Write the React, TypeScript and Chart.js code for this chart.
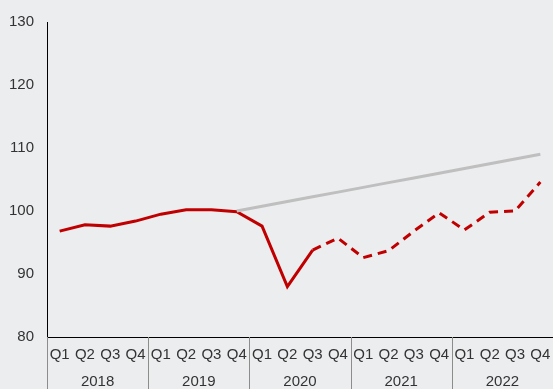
import React, { useEffect, useRef } from "react";
import { Chart, registerables } from "chart.js";

Chart.register(...registerables);

const quarters = ["Q1","Q2","Q3","Q4","Q1","Q2","Q3","Q4","Q1","Q2","Q3","Q4","Q1","Q2","Q3","Q4","Q1","Q2","Q3","Q4"];
const years = ["2018", "2019", "2020", "2021", "2022"];
const actual = [96.8, 97.8, 97.6, 98.4, 99.5, 100.2, 100.2, 99.9, 97.6, 88.0, 93.8, 95.7, 92.6, 93.7, 96.8, 99.7, 97.0, 99.8, 100.0, 104.6];
const trend = [null, null, null, null, null, null, null, 100.0, 100.75, 101.5, 102.25, 103.0, 103.75, 104.5, 105.25, 106.0, 106.75, 107.5, 108.25, 109.0];
const yTicks = [80, 90, 100, 110, 120, 130];
const forecastStart = 10;

const FONT = "'Liberation Sans', Arial, sans-serif";

export default function App() {
  const ref = useRef<HTMLCanvasElement>(null);
  useEffect(() => {
    document.body.style.margin = "0";
    const yearPlugin = {
      id: "yearPlugin",
      afterDraw(chart: any) {
        const { ctx, chartArea, scales } = chart;
        const x = scales.x;
        const n = quarters.length;
        const step = (x.getPixelForValue(1) - x.getPixelForValue(0));
        ctx.save();
        ctx.strokeStyle = "#8c8c8c";
        ctx.lineWidth = 1;
        for (let g = 0; g <= years.length; g++) {
          const idx = g * 4;
          const px = Math.round(x.getPixelForValue(Math.min(idx, n - 1)) + (idx >= n ? step / 2 : -step / 2)) + 0.5;
          ctx.beginPath();
          ctx.moveTo(px, chartArea.bottom);
          ctx.lineTo(px, chart.height);
          ctx.stroke();
        }
        ctx.fillStyle = "#333333";
        ctx.font = `15px ${FONT}`;
        ctx.textAlign = "center";
        ctx.textBaseline = "middle";
        years.forEach((yr, g) => {
          const c = (x.getPixelForValue(g * 4) + x.getPixelForValue(g * 4 + 3)) / 2;
          ctx.fillText(yr, c, chartArea.bottom + 45);
        });
        ctx.restore();
      },
    };
    const chart = new Chart(ref.current!, {
      type: "line",
      data: {
        labels: quarters,
        datasets: [
          {
            data: trend,
            borderColor: "#BFBFBF",
            borderWidth: 3,
            pointRadius: 0,
            tension: 0,
          },
          {
            data: actual,
            borderColor: "#C00000",
            borderWidth: 3,
            pointRadius: 0,
            tension: 0,
            segment: {
              borderDash: (c: any) => (c.p0DataIndex >= forecastStart ? [9, 6] : undefined),
            },
          },
        ],
      },
      options: {
        animation: false,
        responsive: false,
        layout: { padding: { top: 21, right: 0, left: 0, bottom: 0 } },
        plugins: { legend: { display: false }, tooltip: { enabled: false } },
        scales: {
          x: {
            offset: true,
            grid: { display: false, drawTicks: false },
            border: { display: true, color: "#000000", width: 1 },
            ticks: { color: "#333333", font: { size: 15, family: FONT }, padding: 9, maxRotation: 0, autoSkip: false },
            afterFit: (s: any) => { s.height = 52; s.paddingRight = 0; s.paddingLeft = 0; },
          },
          y: {
            min: 80,
            max: 130,
            afterBuildTicks: (s: any) => { s.ticks = yTicks.map((v) => ({ value: v })); },
            grid: { display: false, drawTicks: false },
            border: { display: true, color: "#000000", width: 1 },
            ticks: { color: "#333333", font: { size: 15, family: FONT }, padding: 13 },
            afterFit: (s: any) => { s.width = 47; },
          },
        },
      },
      plugins: [yearPlugin],
    });
    return () => chart.destroy();
  }, []);
  return (
    <div style={{ width: 553, height: 389, background: "#ECEDEF" }}>
      <canvas ref={ref} width={553} height={389} style={{ display: "block" }} />
    </div>
  );
}
